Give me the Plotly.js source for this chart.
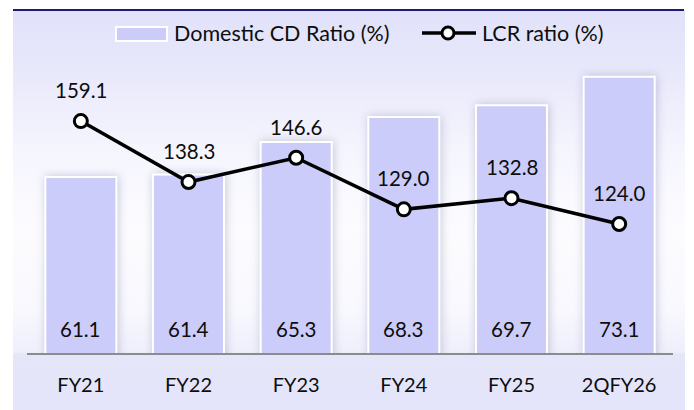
<!DOCTYPE html>
<html>
<head>
<meta charset="utf-8">
<script src="https://cdn.plot.ly/plotly-3.0.1.min.js"></script>
<style>
  html, body { margin: 0; padding: 0; background: #ffffff; }
  #wrap { position: relative; width: 694px; height: 410px; overflow: hidden; }
  #panel { position: absolute; left: 13px; top: 10px; width: 672px; height: 400px;
    background: linear-gradient(to bottom, #e1e1fa 0%, #e8e8fb 15%, #f5f5fe 35%, #fcfcff 55%, #f8f8fe 75%, #efeffc 85.5%, #e6e6fa 86%, #e4e4fa 100%); }
  #rule { position: absolute; left: 13px; top: 9px; width: 671px; height: 2px; background: #1c1c78; }
  #chart { position: absolute; left: 0; top: 0; width: 694px; height: 410px; }
  #chart .bars path { filter: drop-shadow(1px 0px 5px rgba(110,110,150,0.35)); }
</style>
</head>
<body>
<div id="wrap">
  <div id="panel"></div>
  <div id="rule"></div>
  <div id="chart"></div>
</div>
<script>
// ---- data ----
const categories = ['FY21', 'FY22', 'FY23', 'FY24', 'FY25', '2QFY26'];
const cdRatio = [61.1, 61.4, 65.3, 68.3, 69.7, 73.1];
const lcrRatio = [159.1, 138.3, 146.6, 129.0, 132.8, 124.0];
const seriesNames = ['Domestic CD Ratio (%)', 'LCR ratio (%)'];

// ---- geometry helpers (pixel -> paper) ----
const W = 694, H = 410;
const M = { l: 27, r: 21, t: 61, b: 57 };
const PW = W - M.l - M.r, PH = H - M.t - M.b;
const px = x => (x - M.l) / PW;
const py = y => (H - M.b - y) / PH;

const FONT = 'Lato, "Open Sans", "Noto Sans", sans-serif';
const TXT = '#0d0d0d';
const BAR = '#ccccfa';

const traces = [
  {
    type: 'bar', x: categories, y: cdRatio, name: seriesNames[0],
    marker: { color: BAR, line: { color: '#ffffff', width: 2 } },
    hoverinfo: 'skip', showlegend: false
  },
  {
    type: 'scatter', mode: 'lines+markers', x: categories, y: lcrRatio, yaxis: 'y2',
    name: seriesNames[1],
    line: { color: '#000000', width: 3.5 },
    marker: { size: 13, color: '#ffffff', line: { color: '#000000', width: 3 } },
    hoverinfo: 'skip', showlegend: false
  }
];

const annotations = [];
categories.forEach((c, i) => {
  annotations.push({
    x: c, y: 40, xref: 'x', yref: 'y', yshift: 24, showarrow: false,
    text: cdRatio[i].toFixed(1), font: { family: FONT, size: 20.5, color: TXT },
    xanchor: 'center', yanchor: 'middle'
  });
  annotations.push({
    x: c, y: lcrRatio[i], xref: 'x', yref: 'y2', yshift: 31, showarrow: false,
    text: lcrRatio[i].toFixed(1), font: { family: FONT, size: 20.5, color: TXT },
    xanchor: 'center', yanchor: 'middle'
  });
});
// custom legend text
annotations.push({ x: px(172), y: py(33), xref: 'paper', yref: 'paper', showarrow: false,
  text: seriesNames[0], xanchor: 'left', yanchor: 'middle',
  font: { family: FONT, size: 21.5, color: TXT } });
annotations.push({ x: px(480), y: py(33), xref: 'paper', yref: 'paper', showarrow: false,
  text: seriesNames[1], xanchor: 'left', yanchor: 'middle',
  font: { family: FONT, size: 21.5, color: TXT } });

const shapes = [
  { type: 'rect', xref: 'paper', yref: 'paper', x0: px(116), x1: px(167), y0: py(41), y1: py(27),
    fillcolor: BAR, line: { color: '#ffffff', width: 2 } },
  { type: 'line', xref: 'paper', yref: 'paper', x0: px(422), x1: px(476), y0: py(33), y1: py(33),
    line: { color: '#000000', width: 3.5 } },
  { type: 'circle', xref: 'paper', yref: 'paper', x0: px(442), x1: px(454), y0: py(39), y1: py(27),
    fillcolor: '#ffffff', line: { color: '#000000', width: 3 } }
];

const layout = {
  width: W, height: H, margin: M,
  paper_bgcolor: 'rgba(0,0,0,0)', plot_bgcolor: 'rgba(0,0,0,0)',
  font: { family: FONT, size: 20, color: TXT },
  bargap: 0.34, showlegend: false,
  xaxis: {
    type: 'category', showgrid: false, zeroline: false,
    showline: true, linecolor: '#8c8c8c', linewidth: 2,
    ticks: '', ticklabelstandoff: 13,
    tickfont: { family: FONT, size: 20, color: TXT }
  },
  yaxis: { range: [40, 75], showgrid: false, zeroline: false, showticklabels: false, showline: false },
  yaxis2: { range: [80, 179.6], overlaying: 'y', side: 'right', showgrid: false, zeroline: false,
    showticklabels: false, showline: false },
  annotations: annotations,
  shapes: shapes
};

Plotly.newPlot('chart', traces, layout, { displayModeBar: false, staticPlot: true });
</script>
</body>
</html>
